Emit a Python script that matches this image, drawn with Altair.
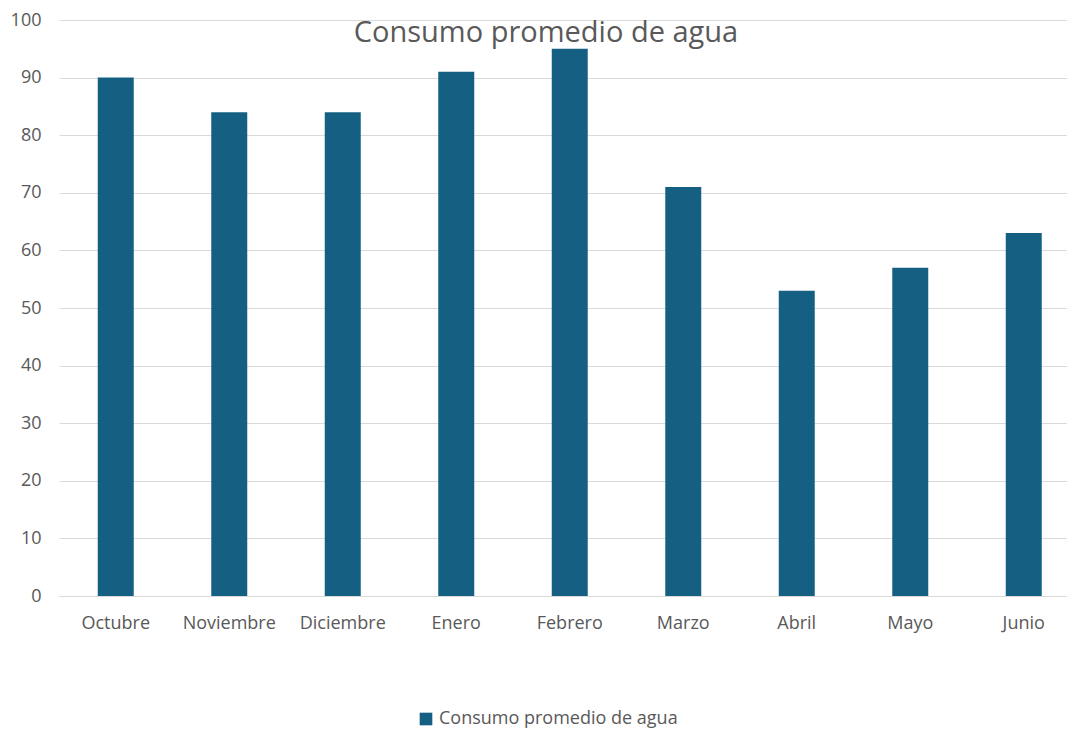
import altair as alt
import pandas as pd

meses = ["Octubre", "Noviembre", "Diciembre", "Enero", "Febrero", "Marzo", "Abril", "Mayo", "Junio"]
consumo = [90, 84, 84, 91, 95, 71, 53, 57, 63]
serie = "Consumo promedio de agua"

df = pd.DataFrame({"mes": meses, "consumo": consumo, "serie": [serie] * len(meses)})

FONT = "Open Sans"
GREY = "#595959"

chart = (
    alt.Chart(df)
    .mark_bar(size=36, color="#156082")
    .encode(
        x=alt.X(
            "mes:N",
            sort=meses,
            title=None,
            scale=alt.Scale(range=[0, 1021.5], paddingInner=0, paddingOuter=0),
            axis=alt.Axis(
                labelAngle=0,
                labelFont=FONT,
                labelFontSize=18,
                labelColor=GREY,
                labelPadding=18,
                ticks=False,
                domainColor="#d9d9d9",
                domainWidth=1,
                grid=False,
            ),
        ),
        y=alt.Y(
            "consumo:Q",
            title=None,
            scale=alt.Scale(domain=[0, 100], nice=False),
            axis=alt.Axis(
                values=list(range(0, 101, 10)),
                labelFont=FONT,
                labelFontSize=18,
                labelColor=GREY,
                labelPadding=18,
                ticks=False,
                domain=False,
                gridColor="#d9d9d9",
                gridWidth=1,
            ),
        ),
        color=alt.Color(
            "serie:N",
            scale=alt.Scale(range=["#156082"]),
            legend=alt.Legend(
                title=None,
                orient="none",
                legendX=358,
                legendY=690,
                symbolType="square",
                symbolSize=160,
                symbolStrokeWidth=0,
                labelFont=FONT,
                labelFontSize=18,
                labelColor=GREY,
                labelLimit=0,
            ),
        ),
    )
    .properties(
        width=1008,
        height=576,
        autosize=alt.AutoSizeParams(type="none"),
        padding={"left": 51, "top": 12, "right": 0, "bottom": 135},
        title=alt.TitleParams(
            serie,
            font=FONT,
            fontSize=29,
            fontWeight="normal",
            color=GREY,
            anchor="middle",
            frame="group",
            dx=-17,
            offset=-37,
        ),
    )
    .configure_view(stroke=None)
)

chart.save("out.html", embed_options={"renderer": "svg", "actions": False})
